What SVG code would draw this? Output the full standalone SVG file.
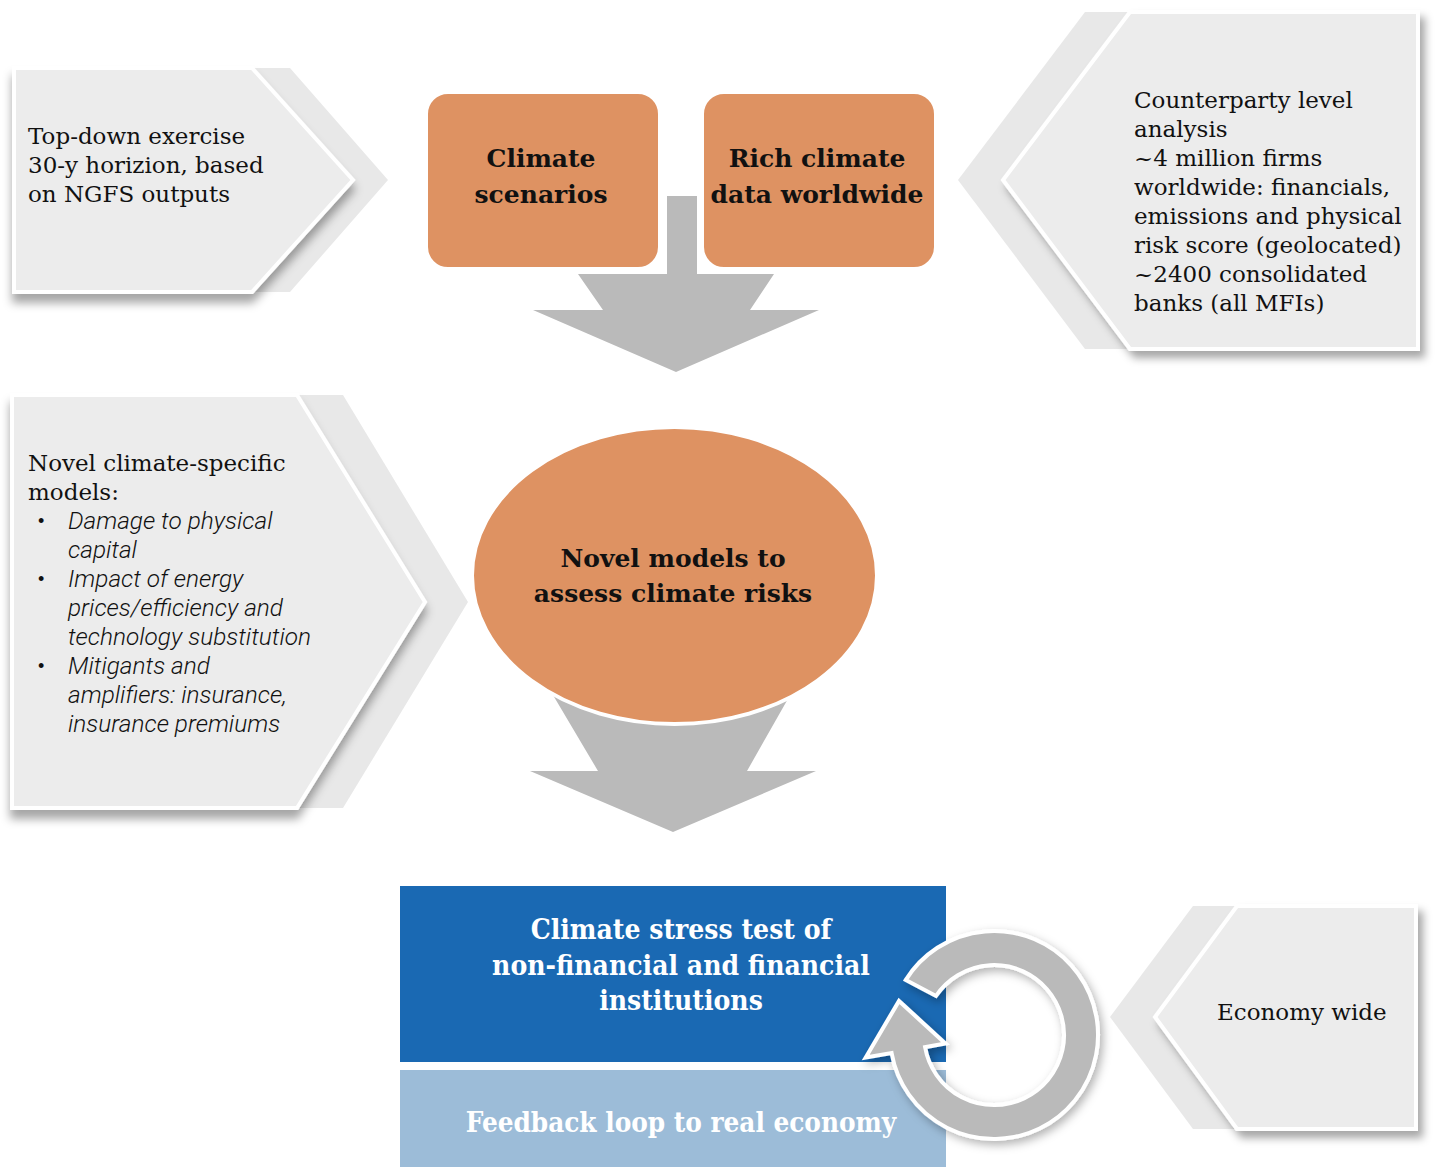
<svg xmlns="http://www.w3.org/2000/svg" width="1435" height="1167" viewBox="0 0 1435 1167">
  <defs>
    <filter id="shBelow" x="-10%" y="-10%" width="130%" height="130%">
      <feDropShadow dx="0" dy="9" stdDeviation="5" flood-color="#000" flood-opacity="0.35"/>
    </filter>
    <filter id="shRight" x="-10%" y="-10%" width="130%" height="130%">
      <feDropShadow dx="5" dy="7" stdDeviation="4" flood-color="#000" flood-opacity="0.35"/>
    </filter>
    <filter id="shRing" x="-20%" y="-20%" width="140%" height="140%">
      <feDropShadow dx="3" dy="4" stdDeviation="5" flood-color="#000" flood-opacity="0.3"/>
    </filter>
  </defs>
  <style>
    .back { fill: #e8e8e8; }
    .front { fill: #ececec; stroke: #ffffff; stroke-width: 4; stroke-linejoin: miter; }
    .orange { fill: #de9262; stroke: #ffffff; stroke-width: 4; }
    .arrow { fill: #bababa; }
    .txt { font-family: "DejaVu Serif", "Liberation Serif", serif; font-size: 23px; fill: #111111; }
    .bold { font-family: "DejaVu Serif", "Liberation Serif", serif; font-size: 25px; font-weight: bold; fill: #111111; text-anchor: middle; }
    .ital { font-family: Roboto, "Liberation Sans", sans-serif; font-size: 24.4px; font-weight: 300; font-style: italic; fill: #111111; }
    .bul { font-family: "Liberation Sans", sans-serif; font-size: 18px; fill: #111111; }
    .white { font-family: "DejaVu Serif Condensed", "DejaVu Serif", serif; font-stretch: condensed; font-size: 28px; font-weight: bold; fill: #ffffff; text-anchor: middle; }
    .white.small { font-size: 27.6px; }
  </style>

  <rect x="0" y="0" width="1435" height="1167" fill="#ffffff"/>

  <!-- arrows joining the steps -->
  <g id="connectors">
    <rect class="arrow" x="667" y="196" width="30" height="86"/>
    <polygon class="arrow" points="578,274 774,274 750,310 819,310 676,372 533,310 603,310"/>
    <polygon class="arrow" points="550,690 793,690 747,771 816,771 673,832 530,771 598,771"/>
  </g>

  <!-- top-left: exercise scope -->
  <g id="node-topdown">
    <polygon class="back" points="14,68 290,68 388,180 290,292 14,292"/>
    <polygon class="front" filter="url(#shBelow)" points="14,68 252,68 353,180 252,292 14,292"/>
    <text class="txt" x="28" y="144">Top-down exercise</text>
    <text class="txt" x="28" y="173">30-y horizion, based</text>
    <text class="txt" x="28" y="202">on NGFS outputs</text>
  </g>

  <!-- top-centre: inputs -->
  <g id="node-scenarios">
    <rect class="orange" x="426" y="92" width="234" height="177" rx="22"/>
    <text class="bold" x="541" y="167">Climate</text>
    <text class="bold" x="541" y="203">scenarios</text>
  </g>
  <g id="node-data">
    <rect class="orange" x="702" y="92" width="234" height="177" rx="22"/>
    <text class="bold" x="817" y="167">Rich climate</text>
    <text class="bold" x="817" y="203">data worldwide</text>
  </g>

  <!-- top-right: data coverage -->
  <g id="node-counterparty">
    <polygon class="back" points="1085,12 1420,12 1420,349 1085,349 958,180"/>
    <polygon class="front" filter="url(#shRight)" points="1130,12 1418,12 1418,349 1130,349 1003,180"/>
    <text class="txt" x="1134" y="108">Counterparty level</text>
    <text class="txt" x="1134" y="137">analysis</text>
    <text class="txt" x="1134" y="166">~4 million firms</text>
    <text class="txt" x="1134" y="195">worldwide: financials,</text>
    <text class="txt" x="1134" y="224">emissions and physical</text>
    <text class="txt" x="1134" y="253">risk score (geolocated)</text>
    <text class="txt" x="1134" y="282">~2400 consolidated</text>
    <text class="txt" x="1134" y="311">banks (all MFIs)</text>
  </g>

  <!-- middle-left: model list -->
  <g id="node-models-list">
    <polygon class="back" points="12,395 343,395 468,602 343,808 12,808"/>
    <polygon class="front" filter="url(#shBelow)" points="12,395 297,395 425,602 297,808 12,808"/>
    <text class="txt" x="28" y="471">Novel climate-specific</text>
    <text class="txt" x="28" y="500">models:</text>
    <text class="bul" x="38" y="527">•</text>
    <text class="ital" x="68" y="529">Damage to physical</text>
    <text class="ital" x="68" y="558">capital</text>
    <text class="bul" x="38" y="585">•</text>
    <text class="ital" x="68" y="587">Impact of energy</text>
    <text class="ital" x="68" y="616">prices/efficiency and</text>
    <text class="ital" x="68" y="645">technology substitution</text>
    <text class="bul" x="38" y="672">•</text>
    <text class="ital" x="68" y="674">Mitigants and</text>
    <text class="ital" x="68" y="703">amplifiers: insurance,</text>
    <text class="ital" x="68" y="732">insurance premiums</text>
  </g>

  <!-- centre: modelling step -->
  <g id="node-novel-models">
    <ellipse class="orange" cx="674.5" cy="575.5" rx="202.5" ry="148.5"/>
    <text class="bold" x="673" y="567">Novel models to</text>
    <text class="bold" x="673" y="602">assess climate risks</text>
  </g>

  <!-- bottom: stress test and feedback -->
  <g id="node-stress-test">
    <rect x="400" y="886" width="546" height="176" fill="#1a69b3"/>
    <text class="white" x="681" y="939">Climate stress test of</text>
    <text class="white" x="681" y="975">non-financial and financial</text>
    <text class="white" x="681" y="1010">institutions</text>
  </g>
  <g id="node-feedback">
    <rect x="400" y="1070" width="546" height="97" fill="#9cbcd8"/>
    <text class="white small" x="681" y="1132">Feedback loop to real economy</text>
  </g>

  <!-- circular feedback arrow -->
  <g id="loop-arrow">
    <path class="arrow" filter="url(#shRing)" stroke="#ffffff" stroke-width="4" stroke-linejoin="miter"
      d="M905.8,979.9 A104,104 0 1 1 891.6,1053.1 L865.7,1057.5 L899,1001 L945.4,1043.4 L925.1,1047.2 A70,70 0 1 0 936,996 Z"/>
  </g>

  <!-- bottom-right: scope -->
  <g id="node-economy">
    <polygon class="back" points="1193,906 1415,906 1415,1129 1193,1129 1110,1017"/>
    <polygon class="front" filter="url(#shRight)" points="1237,906 1416,906 1416,1129 1237,1129 1155,1017"/>
    <text class="txt" x="1217" y="1020">Economy wide</text>
  </g>
</svg>
